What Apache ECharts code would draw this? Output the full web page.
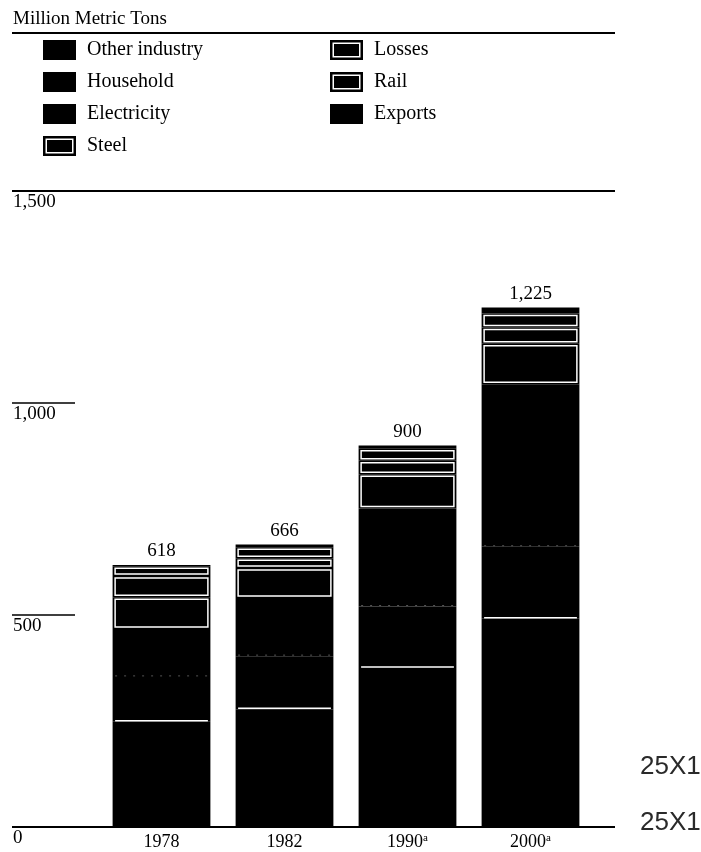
<!DOCTYPE html>
<html>
<head>
<meta charset="utf-8">
<script src="https://cdn.jsdelivr.net/npm/echarts@6/dist/echarts.min.js"></script>
<style>
  html, body { margin: 0; padding: 0; background: #fff; }
  #chart { width: 701px; height: 852px; }
</style>
</head>
<body>
<div id="chart"></div>
<script>
const years = ['1978', '1982', '1990', '2000']
const yearNotes = ['', '', 'a', 'a']
const otherIndustry = [248, 278, 375, 491]
const household = [106, 125, 145, 170]
const electricity = [113, 137, 231, 383]
const steel = [75, 71, 81, 96]
const losses = [50, 23, 32, 38]
const rail = [23, 26, 28, 33]
const exportsT = [3, 6, 8, 14]
const yTicks = [0, 500, 1000, 1500]

const serif = '"Liberation Serif", "Times New Roman", serif'
const boxIcon = 'path://M0 0H33V20H0Z M2.5 2.5V17.5H30.5V2.5Z M4 4H29V16H4Z'

// stack order, bottom to top
const layers = [
  { name: 'Other industry', values: otherIndustry, mark: 'none' },
  { name: 'Household', values: household, mark: 'line' },
  { name: 'Electricity', values: electricity, mark: 'dots' },
  { name: 'Steel', values: steel, mark: 'box' },
  { name: 'Losses', values: losses, mark: 'box' },
  { name: 'Rail', values: rail, mark: 'box' },
  { name: 'Exports', values: exportsT, mark: 'none' },
]

const running = years.map(() => 0)
const totals = years.map((_, i) => layers.reduce((s, l) => s + l.values[i], 0))

function makeSeries(layer, isTop) {
  const data = layer.values.map((v, i) => {
    const lo = running[i]
    running[i] += v
    return [i, lo, running[i]]
  })
  return {
    name: layer.name,
    type: 'custom',
    xAxisIndex: 1,
    yAxisIndex: 1,
    itemStyle: { color: '#000' },
    encode: { x: 0, y: [1, 2] },
    data,
    renderItem: (params, api) => {
      const lo = api.coord([api.value(0), api.value(1)])
      const hi = api.coord([api.value(0), api.value(2)])
      const w = api.size([1, 0])[0] * 0.795
      const x = lo[0] - w / 2
      const y = hi[1]
      const h = lo[1] - hi[1]
      const children = [
        { type: 'rect', shape: { x, y, width: w, height: h }, style: { fill: '#000' } },
      ]
      if (layer.mark === 'box') {
        children.push({
          type: 'rect',
          shape: { x: x + 2.5, y: y + 2, width: w - 5, height: Math.max(h - 4, 1) },
          style: { fill: 'none', stroke: '#fff', lineWidth: 1.5 },
        })
      } else if (layer.mark === 'line') {
        children.push({
          type: 'line',
          shape: { x1: x + 2.5, y1: lo[1] - 1, x2: x + w - 2.5, y2: lo[1] - 1 },
          style: { stroke: '#fff', lineWidth: 1.5 },
        })
      } else if (layer.mark === 'dots') {
        children.push({
          type: 'line',
          shape: { x1: x + 2.5, y1: lo[1] - 1, x2: x + w - 2.5, y2: lo[1] - 1 },
          style: { stroke: '#555', lineWidth: 1, lineDash: [2, 7] },
        })
      }
      if (isTop) {
        children.push({
          type: 'text',
          x: lo[0],
          y: y - 4,
          style: {
            text: totals[params.dataIndex].toLocaleString('en-US'),
            font: '19px ' + serif,
            fill: '#000',
            align: 'center',
            verticalAlign: 'bottom',
          },
        })
      }
      return { type: 'group', children }
    },
  }
}

const series = layers.map((l, k) => makeSeries(l, k === layers.length - 1))

const legendItem = (name) => {
  const l = layers.find((d) => d.name === name)
  return { name, icon: l.mark === 'box' ? boxIcon : 'rect' }
}
const legendBase = {
  orient: 'vertical',
  top: 40,
  padding: 0,
  itemWidth: 33,
  itemHeight: 20,
  itemGap: 12,
  selectedMode: false,
  textStyle: { fontFamily: serif, fontSize: 20, color: '#000', padding: [0, 0, 0, 6] },
}

const chart = echarts.init(document.getElementById('chart'), null, { renderer: 'canvas' })
chart.setOption({
  animation: false,
  backgroundColor: '#fff',
  title: {
    text: 'Million Metric Tons',
    left: 8,
    top: 5,
    textStyle: { fontFamily: serif, fontSize: 19, fontWeight: 'normal', color: '#000' },
  },
  legend: [
    { ...legendBase, left: 43, data: ['Other industry', 'Household', 'Electricity', 'Steel'].map(legendItem) },
    { ...legendBase, left: 330, data: ['Losses', 'Rail', 'Exports'].map(legendItem) },
  ],
  grid: [
    { left: 12, right: 86, top: 191, bottom: 25 },
    { left: 100, right: 109, top: 191, bottom: 25 },
  ],
  xAxis: [
    { gridIndex: 0, type: 'value', show: false },
    {
      gridIndex: 1,
      type: 'category',
      data: years,
      axisLine: { show: false },
      axisTick: { show: false },
      axisLabel: {
        margin: 6,
        color: '#000',
        fontFamily: serif,
        fontSize: 18,
        formatter: (v, i) => (yearNotes[i] ? v + '{sup|' + yearNotes[i] + '}' : v),
        rich: { sup: { fontFamily: serif, fontSize: 11, verticalAlign: 'top', lineHeight: 12 } },
      },
    },
  ],
  yAxis: [
    {
      gridIndex: 0,
      type: 'value',
      min: yTicks[0],
      max: yTicks[yTicks.length - 1],
      interval: yTicks[1] - yTicks[0],
      axisLine: { show: false },
      axisTick: { show: true, inside: true, length: 63, lineStyle: { color: '#000', width: 1.5 } },
      axisLabel: {
        inside: true,
        margin: 1,
        verticalAlign: 'top',
        padding: [2, 0, 0, 0],
        color: '#000',
        fontFamily: serif,
        fontSize: 19,
        formatter: (v) => v.toLocaleString('en-US'),
      },
      splitLine: {
        show: true,
        lineStyle: { color: ['#000', 'transparent', 'transparent', '#000'], width: 2 },
      },
    },
    {
      gridIndex: 1,
      type: 'value',
      min: yTicks[0],
      max: yTicks[yTicks.length - 1],
      show: false,
    },
  ],
  graphic: [
    { type: 'line', shape: { x1: 12, y1: 33, x2: 615, y2: 33 }, style: { stroke: '#000', lineWidth: 2 } },
    {
      type: 'text', x: 640, y: 767,
      style: { text: '25X1', font: '26px "Liberation Sans", Arial, sans-serif', fill: '#2a2a2a', verticalAlign: 'middle' },
    },
    {
      type: 'text', x: 640, y: 823,
      style: { text: '25X1', font: '26px "Liberation Sans", Arial, sans-serif', fill: '#2a2a2a', verticalAlign: 'middle' },
    },
  ],
  series,
})
</script>
</body>
</html>
